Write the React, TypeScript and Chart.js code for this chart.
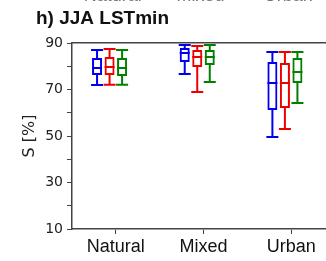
import React, { useEffect, useRef } from "react";
import { Chart, registerables } from "chart.js";

Chart.register(...registerables);

const categories = ["Natural", "Mixed", "Urban"];
const seriesNames = ["Series A", "Series B", "Series C"];
const seriesColors = ["#0000ee", "#ee0000", "#008000"];

// [Natural, Mixed, Urban]
const blueMin = [71.9, 76.7, 49.6];
const blueQ1 = [76.2, 81.8, 61.2];
const blueMed = [79.2, 85.7, 72.8];
const blueQ3 = [83.5, 87.8, 81.8];
const blueMax = [87.0, 89.1, 86.1];

const redMin = [72.0, 68.9, 53.0];
const redQ1 = [76.2, 79.7, 62.0];
const redMed = [79.7, 84.0, 72.8];
const redQ3 = [84.0, 87.0, 81.4];
const redMax = [87.4, 88.7, 86.1];

const greenMin = [72.0, 73.2, 64.2];
const greenQ1 = [75.8, 80.5, 72.8];
const greenMed = [79.2, 84.0, 77.5];
const greenQ3 = [83.5, 87.0, 83.5];
const greenMax = [87.0, 89.1, 86.1];

const yMin = 10;
const yMax = 90;
const yStep = 10;
const titleText = "h) JJA LSTmin";
const yTitle = "S [%]";

const stats = [
  { min: blueMin, q1: blueQ1, med: blueMed, q3: blueQ3, max: blueMax },
  { min: redMin, q1: redQ1, med: redMed, q3: redQ3, max: redMax },
  { min: greenMin, q1: greenQ1, med: greenMed, q3: greenQ3, max: greenMax },
];

const boxPlugin = {
  id: "boxWhiskers",
  afterDatasetsDraw(chart: any) {
    const ctx = chart.ctx;
    const y = chart.scales.y;
    stats.forEach((s, di) => {
      const meta = chart.getDatasetMeta(di);
      ctx.save();
      ctx.strokeStyle = seriesColors[di];
      ctx.lineWidth = 2;
      meta.data.forEach((el: any, i: number) => {
        const x = el.x;
        const w = el.width;
        const yq1 = y.getPixelForValue(s.q1[i]);
        const yq3 = y.getPixelForValue(s.q3[i]);
        const ymin = y.getPixelForValue(s.min[i]);
        const ymax = y.getPixelForValue(s.max[i]);
        const ymed = y.getPixelForValue(s.med[i]);
        ctx.beginPath();
        ctx.moveTo(x, yq3);
        ctx.lineTo(x, ymax);
        ctx.moveTo(x, yq1);
        ctx.lineTo(x, ymin);
        ctx.moveTo(x - w / 2 - 1, ymax);
        ctx.lineTo(x + w / 2 + 1, ymax);
        ctx.moveTo(x - w / 2 - 1, ymin);
        ctx.lineTo(x + w / 2 + 1, ymin);
        ctx.moveTo(x - w / 2, ymed);
        ctx.lineTo(x + w / 2, ymed);
        ctx.stroke();
      });
      ctx.restore();
    });
  },
};

const textPlugin = {
  id: "extraText",
  afterDraw(chart: any) {
    const ctx = chart.ctx;
    const x = chart.scales.x;
    ctx.save();
    ctx.fillStyle = "#111";
    ctx.font = "bold 19px 'Liberation Sans', Arial, sans-serif";
    ctx.textAlign = "left";
    ctx.textBaseline = "alphabetic";
    ctx.fillText(titleText, 36, 24);
    ctx.fillStyle = "#777";
    ctx.font = "18px 'Liberation Sans', Arial, sans-serif";
    ctx.textAlign = "center";
    categories.forEach((c, i) => {
      ctx.fillText(c, x.getPixelForValue(i) - 3, 1);
    });
    ctx.restore();
  },
};

export default function App() {
  const ref = useRef<HTMLCanvasElement>(null);
  useEffect(() => {
    if (!ref.current) return;
    const datasets: any[] = stats.map((s, di) => ({
      label: seriesNames[di],
      data: s.q1.map((v, i) => [v, s.q3[i]]),
      backgroundColor: "rgba(255,255,255,0)",
      borderColor: seriesColors[di],
      borderWidth: 2,
      borderSkipped: false,
      xAxisID: "x",
      yAxisID: "y",
    }));
    datasets.push({
      label: "",
      data: categories.map(() => null),
      xAxisID: "x",
      yAxisID: "y",
    });
    const chart = new Chart(ref.current, {
      type: "bar",
      data: { labels: categories, datasets },
      options: {
        animation: false,
        responsive: false,
        maintainAspectRatio: false,
        datasets: { bar: { categoryPercentage: 0.571, barPercentage: 0.8 } },
        layout: { padding: { top: 43, left: 0, right: 1, bottom: 0 } },
        plugins: {
          legend: { display: false },
          tooltip: { enabled: false },
          title: { display: false },
        },
        scales: {
          x: {
            type: "category",
            position: "bottom",
            offset: true,
            grid: {
              offset: false,
              drawOnChartArea: false,
              drawTicks: true,
              tickLength: 5,
              color: "#444",
              lineWidth: 1,
            },
            border: { display: true, color: "#444", width: 1.5 },
            ticks: {
              color: "#111",
              font: { family: "'Liberation Sans', Arial, sans-serif", size: 18 },
              padding: 2,
              maxRotation: 0,
            },
            afterFit: (s: any) => {
              s.height = 32;
            },
          },
          xTop: {
            type: "category",
            position: "top",
            offset: true,
            grid: { display: false },
            border: { display: true, color: "#444", width: 1.5 },
            ticks: { display: false },
            afterFit: (s: any) => {
              s.height = 0;
            },
          },
          y: {
            type: "linear",
            min: yMin,
            max: yMax,
            grid: {
              drawOnChartArea: false,
              drawTicks: true,
              tickLength: 5,
              color: "#444",
            },
            border: { display: true, color: "#444", width: 1.5 },
            ticks: {
              stepSize: yStep,
              autoSkip: false,
              color: "#222",
              padding: 4,
              font: { family: "'DejaVu Sans', sans-serif", size: 14 },
              callback: (v: any) => (((v - yMin) / yStep) % 2 === 0 ? String(v) : ""),
            },
            title: {
              display: true,
              text: yTitle,
              color: "#222",
              font: { family: "'DejaVu Sans', sans-serif", size: 16 },
              padding: { top: 20, bottom: 0 },
            },
            afterFit: (s: any) => {
              s.width = 72;
            },
          },
        },
      },
      plugins: [boxPlugin, textPlugin],
    });
    return () => chart.destroy();
  }, []);
  return (
    <div style={{ position: "fixed", left: 0, top: 0, width: 336, height: 261, background: "#fff" }}>
      <canvas ref={ref} width={336} height={261} style={{ display: "block" }} />
    </div>
  );
}
